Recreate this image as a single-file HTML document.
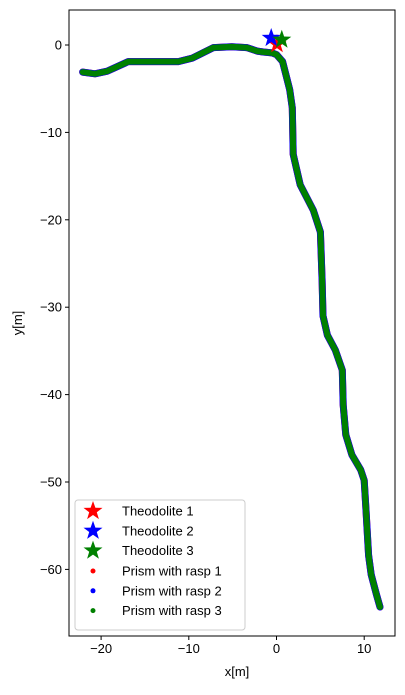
<!DOCTYPE html>
<html><head><meta charset="utf-8"><style>
body{margin:0;background:#fff}
svg text{font-family:"Liberation Sans","DejaVu Sans",sans-serif;font-size:13px;fill:#000}
</style></head><body>
<svg id="c" width="405" height="690"></svg>
<script>
const px=[-22.1,-20.7,-19.3,-16.9,-11.2,-9.6,-7.2,-5.1,-3.4,-2.2,-1.5,-0.5,0,0.7,1.5,1.8,1.9,2.7,4.2,5.0,5.2,5.3,5.8,6.7,7.5,7.6,7.9,8.6,9.6,10.0,10.2,10.5,10.8,11.4,11.8];
const py=[-3.1,-3.3,-3.0,-1.9,-1.9,-1.5,-0.3,-0.2,-0.3,-0.7,-0.8,-0.9,-1.1,-1.9,-5.1,-7.2,-12.5,-16.0,-18.9,-21.4,-26.9,-31.0,-33.2,-34.9,-37.2,-41.2,-44.6,-46.9,-48.6,-49.8,-53.2,-58.4,-60.6,-62.9,-64.3];
const theoX=[0.06,-0.6,0.6];
const theoY=[0.1,0.8,0.6];
const colors=["red","blue","green"];
const xTicks=[-20,-10,0,10];
const yTicks=[0,-10,-20,-30,-40,-50,-60];
const theoLabels=["Theodolite 1","Theodolite 2","Theodolite 3"];
const prismLabels=["Prism with rasp 1","Prism with rasp 2","Prism with rasp 3"];
const L=69,R=395,T=10,B=636;
const sx=v=>276.5+v*8.77, sy=v=>45-v*8.74;
const svg=document.getElementById('c');const NS='http://www.w3.org/2000/svg';
function mk(t,a,p){const e=document.createElementNS(NS,t);for(const k in a)e.setAttribute(k,a[k]);(p||svg).appendChild(e);return e;}
function star(cx,cy,r){let s='';for(let i=0;i<10;i++){const rr=i%2?r*0.4:r;const a=-Math.PI/2+i*Math.PI/5;s+=(cx+rr*Math.cos(a)).toFixed(1)+','+(cy+rr*Math.sin(a)).toFixed(1)+' ';}return s;}
const widths=[7,7,6];
[0,1,2].forEach(i=>{
  const d=px.map((x,j)=>(j?'L':'M')+sx(x).toFixed(1)+','+sy(py[j]).toFixed(1)).join('');
  const p=mk('path',{d:d,fill:'none',stroke:colors[i],'stroke-width':widths[i],'stroke-linejoin':'round','stroke-linecap':'round'});
  
  
});
theoX.forEach((x,i)=>{
  const s=mk('polygon',{points:star(sx(x),sy(theoY[i]),10),fill:colors[i]});
  
  
});
const fr=mk('rect',{x:L,y:T,width:R-L,height:B-T,fill:'none',stroke:'#000','stroke-width':1});

xTicks.forEach(v=>{const x=sx(v);mk('line',{x1:x,x2:x,y1:B,y2:B+4,stroke:'#000'});
  const t=mk('text',{x:x,y:B+17,'text-anchor':'middle'});t.textContent=v<0?'\u2212'+(-v):v;
  });
yTicks.forEach(v=>{const y=sy(v);mk('line',{x1:L-4,x2:L,y1:y,y2:y,stroke:'#000'});
  const t=mk('text',{x:L-7,y:y+4.5,'text-anchor':'end'});t.textContent=v<0?'\u2212'+(-v):v;
  });
const xt=mk('text',{x:237,y:676,'text-anchor':'middle'});xt.textContent='x[m]';

const yt=mk('text',{x:22,y:323,'text-anchor':'middle',transform:'rotate(-90 22 323)'});yt.textContent='y[m]';

const lg=mk('g',{});
mk('rect',{x:75,y:500,width:170,height:130,rx:3,fill:'#fff','fill-opacity':0.8,stroke:'#ccc'},lg);
theoLabels.forEach((s,i)=>{const y=511+i*19.8;
  mk('polygon',{points:star(93,y,10),fill:colors[i]},lg);
  const t=mk('text',{x:122,y:y+4.5},lg);t.textContent=s;
  });
prismLabels.forEach((s,i)=>{const y=571+i*19.8;
  mk('circle',{cx:93,cy:y,r:2.5,fill:colors[i]},lg);
  const t=mk('text',{x:122,y:y+4.5},lg);t.textContent=s;
  });
</script>
</body></html>
